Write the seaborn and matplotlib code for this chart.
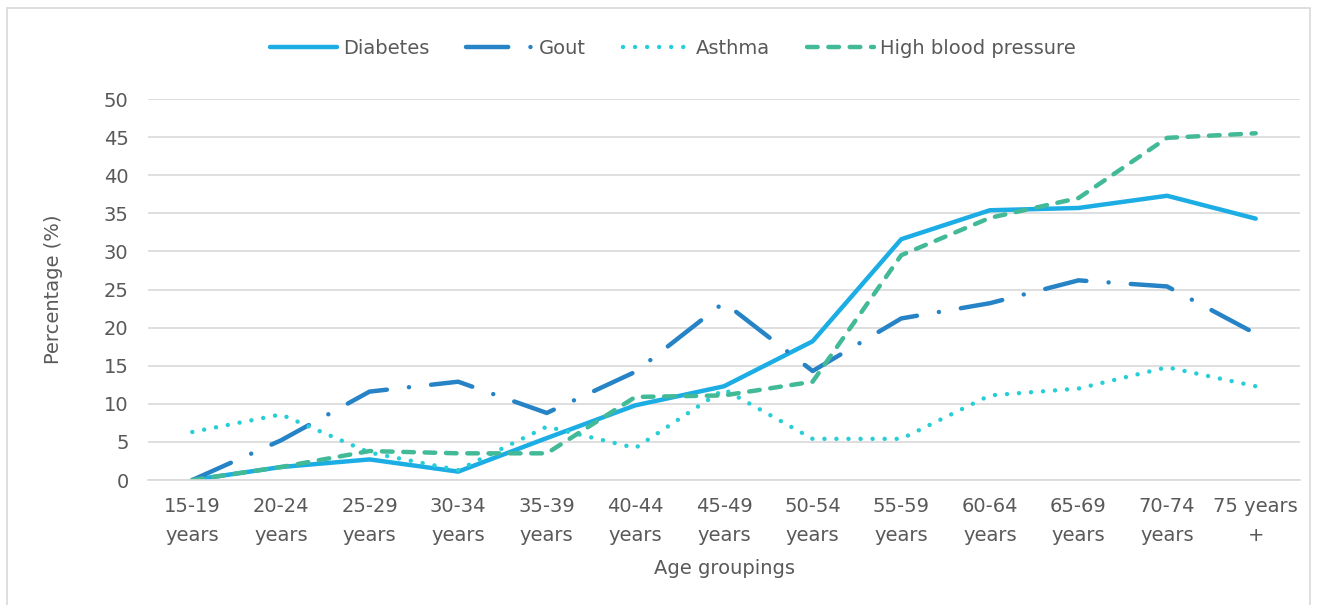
import numpy as np
import pandas as pd
import matplotlib
matplotlib.use("Agg")
import matplotlib.pyplot as plt
import seaborn as sns
from matplotlib.patches import Rectangle

age_groups = ["15-19\nyears", "20-24\nyears", "25-29\nyears", "30-34\nyears", "35-39\nyears",
              "40-44\nyears", "45-49\nyears", "50-54\nyears", "55-59\nyears", "60-64\nyears",
              "65-69\nyears", "70-74\nyears", "75 years\n+"]
diabetes = [0, 1.7, 2.7, 1.1, 5.5, 9.8, 12.3, 18.2, 31.6, 35.4, 35.7, 37.3, 34.3]
gout = [0, 5.2, 11.6, 12.9, 8.8, 14.2, 23.3, 14.3, 21.2, 23.2, 26.2, 25.4, 19.2]
asthma = [6.3, 8.6, 3.6, 1.3, 7.0, 4.2, 11.9, 5.4, 5.4, 11.1, 12.0, 14.8, 12.3]
high_bp = [0, 1.7, 3.8, 3.5, 3.5, 10.9, 11.1, 12.9, 29.5, 34.4, 37.0, 44.9, 45.5]

series_names = ["Diabetes", "Gout", "Asthma", "High blood pressure"]
series_values = [diabetes, gout, asthma, high_bp]
colors = ["#1CADE4", "#2683C6", "#27CED7", "#42BA97"]
dash_styles = [None, (9.5, 5.0, 0.01, 5.0), (0.01, 2.7), (2.4, 2.4)]

sns.set_theme(style="white")
plt.rcParams['font.family'] = ['DejaVu Sans']
text_color = "#595959"

fig = plt.figure(figsize=(13.17, 6.05), dpi=100)
ax = fig.add_axes([148 / 1317, 1 - 480 / 605, (1300 - 148) / 1317, (480 - 99) / 605])

x = np.arange(len(age_groups))
lw = 3.2
for name, vals, col, ds in zip(series_names, series_values, colors, dash_styles):
    df = pd.DataFrame({"x": x, "y": vals})
    sns.lineplot(data=df, x="x", y="y", ax=ax, color=col, linewidth=lw, label=name,
                 legend=False)
    line = ax.lines[-1]
    line.set_solid_capstyle("round")
    line.set_dash_capstyle("round")
    line.set_solid_joinstyle("round")
    line.set_dash_joinstyle("round")
    if ds is not None:
        line.set_dashes(ds)

ax.set_xlim(-0.5, 12.5)
ax.set_ylim(0, 50)
ax.set_yticks(np.arange(0, 51, 5))
ax.set_xticks(x)
ax.set_xticklabels(age_groups, fontsize=14, color=text_color, linespacing=1.7)
ax.tick_params(axis="y", labelsize=14, labelcolor=text_color, length=0, pad=14)
ax.tick_params(axis="x", length=0, pad=12)
ax.grid(axis="y", color="#D9D9D9", linewidth=1.2)
ax.set_axisbelow(True)
for s in ["top", "right", "left"]:
    ax.spines[s].set_visible(False)
ax.spines["bottom"].set_color("#D9D9D9")
ax.spines["bottom"].set_linewidth(1.2)

ax.set_xlabel("Age groupings", fontsize=14, color=text_color, labelpad=10)
ax.set_ylabel("Percentage (%)", fontsize=14, color=text_color, labelpad=29)

handles = ax.lines[:4]
fig.legend(handles, series_names, loc="center", bbox_to_anchor=(0.511, 1 - 48 / 605),
           ncol=4, frameon=False, fontsize=14, labelcolor=text_color,
           handlelength=3.45, handletextpad=0.3, columnspacing=1.9)

fig.patches.append(Rectangle((7 / 1317, -0.01), (1310 - 7) / 1317, 1 - 8 / 605 + 0.01,
                             transform=fig.transFigure, fill=False,
                             edgecolor="#D9D9D9", linewidth=1.2))

fig.savefig("out.png", dpi=100, facecolor="white")
